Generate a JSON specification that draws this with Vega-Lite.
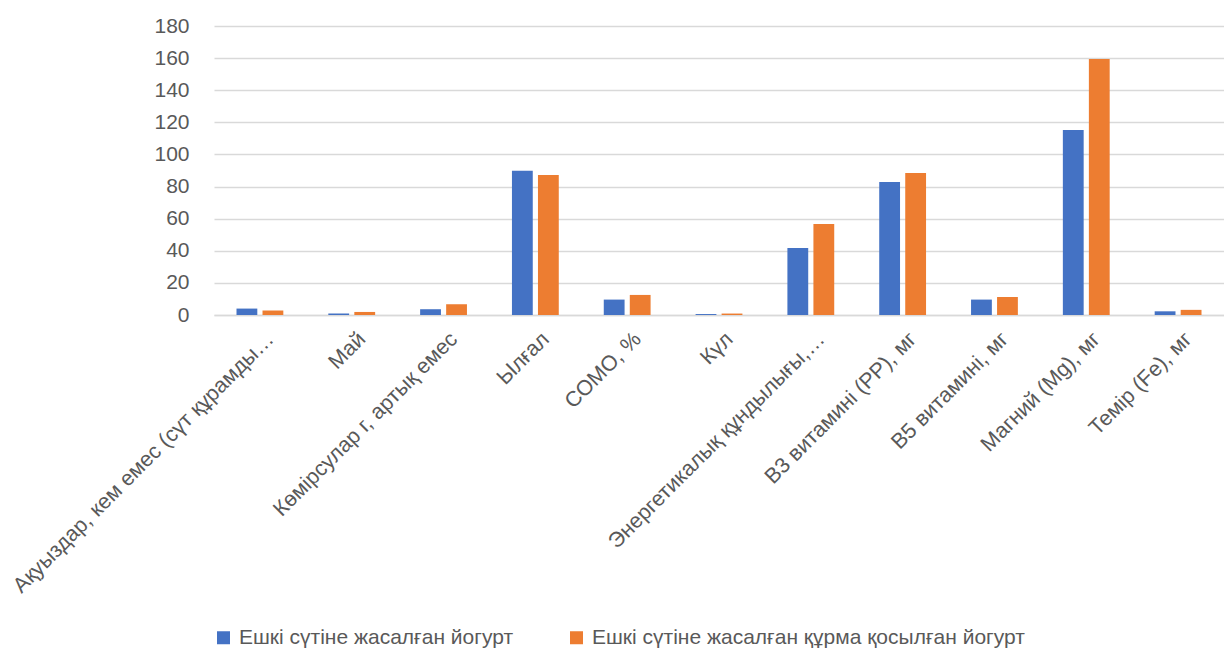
{
  "$schema": "https://vega.github.io/schema/vega-lite/v6.json",
  "width": 1010,
  "height": 289,
  "autosize": {"type": "none"},
  "padding": {"left": 214, "top": 26, "right": 0, "bottom": 333},
  "background": "white",
  "config": {
    "font": "Liberation Sans",
    "view": {"stroke": null}
  },
  "data": {
    "values": [
      {"cat": "Ақуыздар, кем емес (сүт құрамды…", "s": "Ешкі сүтіне жасалған йогурт", "v": 4.0},
      {"cat": "Ақуыздар, кем емес (сүт құрамды…", "s": "Ешкі сүтіне жасалған құрма қосылған йогурт", "v": 2.8},
      {"cat": "Май", "s": "Ешкі сүтіне жасалған йогурт", "v": 1.0},
      {"cat": "Май", "s": "Ешкі сүтіне жасалған құрма қосылған йогурт", "v": 1.9},
      {"cat": "Көмірсулар г, артық емес", "s": "Ешкі сүтіне жасалған йогурт", "v": 3.6},
      {"cat": "Көмірсулар г, артық емес", "s": "Ешкі сүтіне жасалған құрма қосылған йогурт", "v": 6.7},
      {"cat": "Ылғал", "s": "Ешкі сүтіне жасалған йогурт", "v": 89.9},
      {"cat": "Ылғал", "s": "Ешкі сүтіне жасалған құрма қосылған йогурт", "v": 87.2},
      {"cat": "СОМО, %", "s": "Ешкі сүтіне жасалған йогурт", "v": 9.6},
      {"cat": "СОМО, %", "s": "Ешкі сүтіне жасалған құрма қосылған йогурт", "v": 12.5},
      {"cat": "Күл", "s": "Ешкі сүтіне жасалған йогурт", "v": 0.6},
      {"cat": "Күл", "s": "Ешкі сүтіне жасалған құрма қосылған йогурт", "v": 0.9},
      {"cat": "Энергетикалық құндылығы,…", "s": "Ешкі сүтіне жасалған йогурт", "v": 41.7},
      {"cat": "Энергетикалық құндылығы,…", "s": "Ешкі сүтіне жасалған құрма қосылған йогурт", "v": 56.7},
      {"cat": "B3 витамині (PP), мг", "s": "Ешкі сүтіне жасалған йогурт", "v": 82.9},
      {"cat": "B3 витамині (PP), мг", "s": "Ешкі сүтіне жасалған құрма қосылған йогурт", "v": 88.5},
      {"cat": "B5 витамині, мг", "s": "Ешкі сүтіне жасалған йогурт", "v": 9.6},
      {"cat": "B5 витамині, мг", "s": "Ешкі сүтіне жасалған құрма қосылған йогурт", "v": 11.2},
      {"cat": "Магний (Mg), мг", "s": "Ешкі сүтіне жасалған йогурт", "v": 115.3},
      {"cat": "Магний (Mg), мг", "s": "Ешкі сүтіне жасалған құрма қосылған йогурт", "v": 159.5},
      {"cat": "Темір (Fe), мг", "s": "Ешкі сүтіне жасалған йогурт", "v": 2.3},
      {"cat": "Темір (Fe), мг", "s": "Ешкі сүтіне жасалған құрма қосылған йогурт", "v": 3.2}
    ]
  },
  "mark": {"type": "bar"},
  "encoding": {
    "x": {
      "field": "cat",
      "type": "nominal",
      "sort": null,
      "title": null,
      "scale": {"paddingInner": 0.49, "paddingOuter": 0.245},
      "axis": {
        "labelAngle": -45,
        "labelFontSize": 21.5,
        "labelColor": "#595959",
        "labelLimit": 500,
        "labelPadding": 13,
        "labelOffset": 3,
        "ticks": false,
        "domainColor": "#d9d9d9",
        "domainWidth": 1.5,
        "grid": false
      }
    },
    "xOffset": {
      "field": "s",
      "type": "nominal",
      "sort": null,
      "scale": {"paddingInner": 0.2}
    },
    "y": {
      "field": "v",
      "type": "quantitative",
      "title": null,
      "scale": {"domain": [0, 180]},
      "axis": {
        "values": [0, 20, 40, 60, 80, 100, 120, 140, 160, 180],
        "labelFontSize": 21,
        "labelColor": "#595959",
        "labelPadding": 25,
        "ticks": false,
        "domain": false,
        "gridColor": "#d9d9d9",
        "gridWidth": 1.5
      }
    },
    "color": {
      "field": "s",
      "type": "nominal",
      "sort": null,
      "title": null,
      "scale": {"range": ["#4472c4", "#ed7d31"]},
      "legend": {
        "orient": "none",
        "legendX": -1,
        "legendY": 601,
        "direction": "horizontal",
        "symbolType": "square",
        "symbolSize": 169,
        "symbolStrokeWidth": 0,
        "labelFontSize": 21,
        "labelColor": "#595959",
        "labelLimit": 700,
        "labelOffset": 5,
        "columnPadding": 52
      }
    }
  }
}
